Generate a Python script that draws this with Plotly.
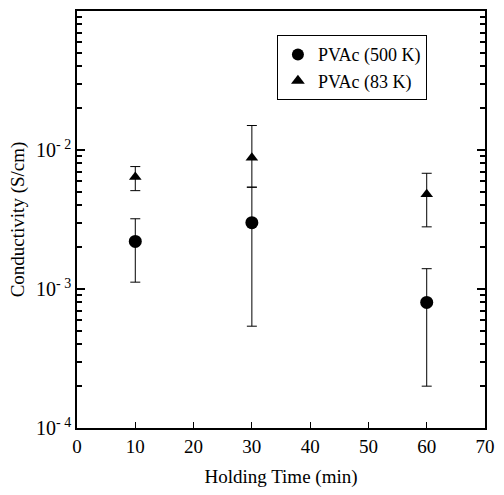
import plotly.graph_objects as go

# Holding time (min)
holding_time = [10, 30, 60]

# PVAc (500 K): conductivity (S/cm) with upper/lower error limits
pvac500 = [2.2e-3, 3.0e-3, 8.0e-4]
pvac500_hi = [3.2e-3, 5.4e-3, 1.4e-3]
pvac500_lo = [1.12e-3, 5.4e-4, 2.0e-4]

# PVAc (83 K)
pvac83 = [6.4e-3, 8.8e-3, 4.8e-3]
pvac83_hi = [7.6e-3, 1.5e-2, 6.8e-3]
pvac83_lo = [5.1e-3, 5.4e-3, 2.8e-3]

x_ticks = [0, 10, 20, 30, 40, 50, 60, 70]
y_major = [1e-4, 1e-3, 1e-2, 1e-1]
y_major_text = ["10<sup>- 4</sup>", "10<sup>- 3</sup>", "10<sup>- 2</sup>", "10<sup>- 1</sup>"]
y_minor = [m * d for d in (1e-4, 1e-3, 1e-2) for m in range(2, 10)]

FONT = "Liberation Serif"


def err(vals, hi, lo):
    return dict(
        type="data", symmetric=False,
        array=[h - v for h, v in zip(hi, vals)],
        arrayminus=[v - l for v, l in zip(vals, lo)],
        color="black", thickness=1, width=5,
    )


fig = go.Figure()
fig.add_trace(go.Scatter(
    x=holding_time, y=pvac500, mode="markers", name="PVAc (500 K)",
    marker=dict(symbol="circle", size=13, color="black"),
    error_y=err(pvac500, pvac500_hi, pvac500_lo),
))
fig.add_trace(go.Scatter(
    x=holding_time, y=pvac83, mode="markers", name="PVAc (83 K)",
    marker=dict(symbol="triangle-up", size=11, color="black"),
    error_y=err(pvac83, pvac83_hi, pvac83_lo),
))
# invisible trace carrying the minor-tick axis
fig.add_trace(go.Scatter(
    x=[None], y=[None], yaxis="y2", showlegend=False, hoverinfo="skip",
))

fig.update_layout(
    width=504, height=495,
    margin=dict(l=77, r=9, t=11, b=67),
    paper_bgcolor="white", plot_bgcolor="white",
    font=dict(family=FONT, size=18, color="black"),
    showlegend=True,
    legend=dict(
        x=0.49, y=0.942, xanchor="left", yanchor="top",
        bordercolor="black", borderwidth=1, bgcolor="white",
        font=dict(family=FONT, size=18), itemsizing="constant",
        tracegroupgap=0, itemwidth=30,
    ),
    xaxis=dict(
        range=[0, 70], tickvals=x_ticks,
        ticks="inside", ticklen=6, tickwidth=1, tickcolor="black",
        showline=True, linecolor="black", linewidth=1.5, mirror=True,
        showgrid=False, zeroline=False,
        tickfont=dict(family=FONT, size=19),
        title=dict(text="Holding Time (min)", font=dict(family=FONT, size=19), standoff=14),
    ),
    yaxis=dict(
        type="log", range=[-4, -1],
        tickvals=y_major, ticktext=y_major_text,
        ticks="inside", ticklen=8, tickwidth=1.5, tickcolor="black",
        showline=True, linecolor="black", linewidth=1.5, mirror="ticks",
        showgrid=False, zeroline=False,
        tickfont=dict(family=FONT, size=20),
        title=dict(text="Conductivity (S/cm)", font=dict(family=FONT, size=19), standoff=6),
    ),
    yaxis2=dict(
        type="log", range=[-4, -1], overlaying="y", side="left",
        tickvals=y_minor, showticklabels=False,
        ticks="inside", ticklen=5, tickwidth=1.5, tickcolor="black",
        mirror="ticks", showline=True, linecolor="black", linewidth=1.5,
        showgrid=False, zeroline=False,
    ),
)

fig.write_html("out.html")
